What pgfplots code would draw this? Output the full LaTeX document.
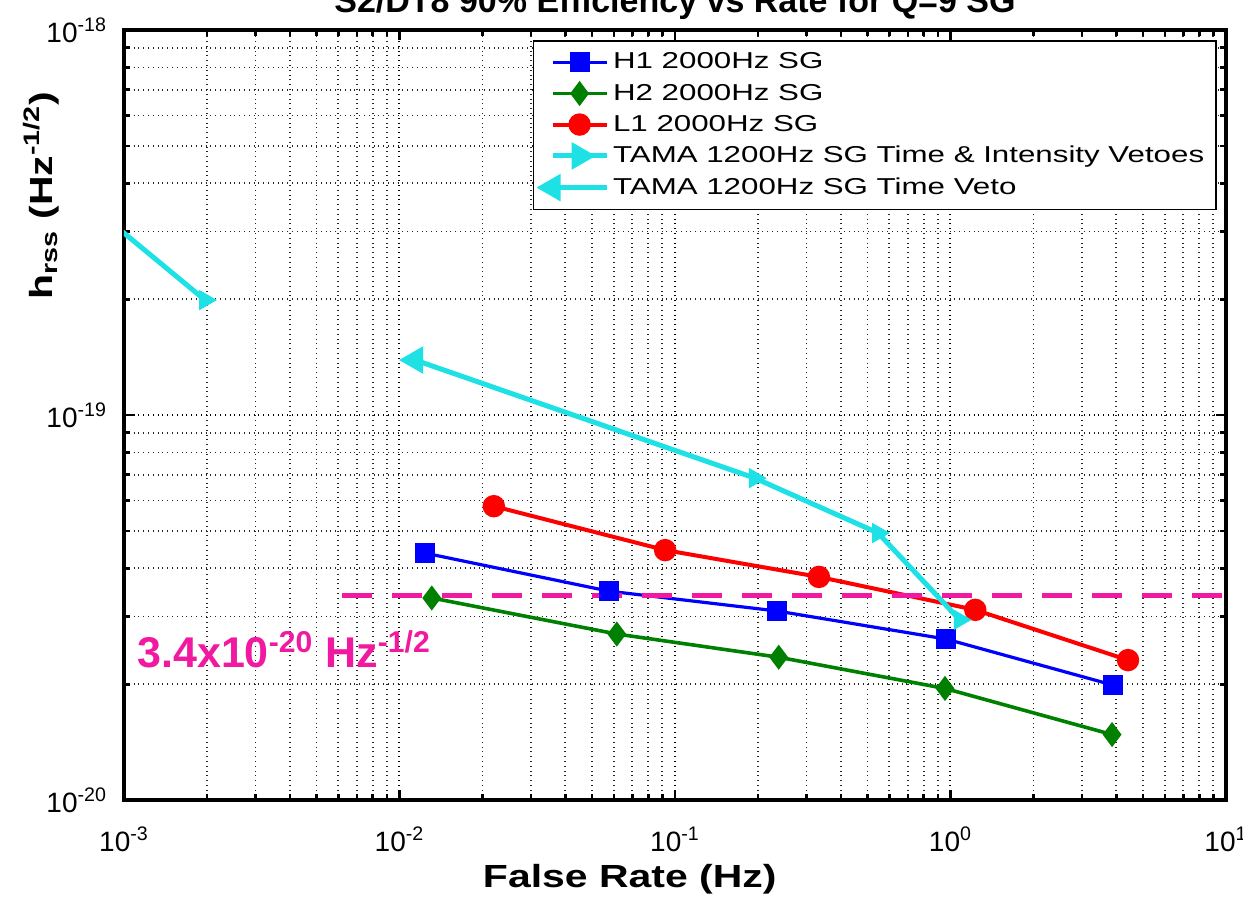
\documentclass[border=0pt]{standalone}
\usepackage{fontspec}
\setmainfont{Liberation Sans}
\newfontfamily\wide[FakeStretch=1.36]{Liberation Sans}
\newfontfamily\widelab[FakeStretch=1.28]{Liberation Sans}
\usepackage{pgfplots}
\pgfplotsset{compat=1.18}

\definecolor{mlblue}{rgb}{0,0,1}
\definecolor{mlgreen}{rgb}{0,0.5,0}
\definecolor{mlred}{rgb}{1,0,0}
\definecolor{tama}{RGB}{30,225,230}
\definecolor{pinkline}{RGB}{240,25,160}

\begin{document}
\begin{tikzpicture}
  \begin{axis}[
      xmode=log, ymode=log,
      scale only axis,
      width=551pt, height=385pt,
      xmin=1e-3, xmax=10,
      ymin=1e-20, ymax=1e-18,
      xtick={1e-3,1e-2,1e-1,1,10},
      xticklabels={10\textsuperscript{-3},10\textsuperscript{-2},10\textsuperscript{-1},10\textsuperscript{0},10\textsuperscript{1}},
      ytick={1e-20,1e-19,1e-18},
      yticklabels={10\textsuperscript{-20},10\textsuperscript{-19},10\textsuperscript{-18}},
      minor xtick={2e-3,3e-3,4e-3,5e-3,6e-3,7e-3,8e-3,9e-3,
                   2e-2,3e-2,4e-2,5e-2,6e-2,7e-2,8e-2,9e-2,
                   0.2,0.3,0.4,0.5,0.6,0.7,0.8,0.9,
                   2,3,4,5,6,7,8,9},
      minor ytick={2e-20,3e-20,4e-20,5e-20,6e-20,7e-20,8e-20,9e-20,
                   2e-19,3e-19,4e-19,5e-19,6e-19,7e-19,8e-19,9e-19},
      grid=both,
      major grid style={black, dotted, line width=1pt},
      minor grid style={black!85, dotted, line width=0.9pt},
      axis line style={line width=2pt},
      tick style={black, line width=1.3pt},
      major tick length=5pt, minor tick length=3pt,
      tick label style={font=\fontsize{14}{16}\selectfont},
      xticklabel style={yshift=-10pt},
      yticklabel style={xshift=-5pt},
      xlabel={\widelab\bfseries\fontsize{16}{19}\selectfont False Rate (Hz)},
      xlabel style={at={(axis description cs:0.459,-0.114)}, anchor=base},
      ylabel={\widelab\bfseries\fontsize{16}{19}\selectfont h\textsubscript{rss} (Hz\textsuperscript{-1/2})},
      ylabel style={at={(axis description cs:-0.0653,0.785)}, anchor=base},
      legend style={at={(axis description cs:1,1)}, anchor=north east,
        xshift=-4.5pt, yshift=-5pt, draw=black, line width=0.8pt,
        font=\wide\fontsize{11.5}{13}\selectfont, cells={anchor=west},
        row sep=2pt, inner sep=4pt},
      legend image code/.code={
        \draw[mark repeat=2, mark phase=2, #1]
          plot coordinates {(0pt,0pt) (13.5pt,0pt) (27pt,0pt)};},
    ]

    % H1
    \addplot[mlblue, line width=1.6pt, mark=square*, mark size=4.2pt,
      mark options={solid, fill=mlblue}] coordinates {
      (0.0124,4.38e-20) (0.0575,3.49e-20) (0.234,3.10e-20) (0.964,2.62e-20) (3.89,1.99e-20)
    };
    \addlegendentry{H1 2000Hz SG}

    % H2
    \addplot[mlgreen, line width=1.8pt, mark=diamond*, mark size=4.8pt,
      mark options={solid, fill=mlgreen}] coordinates {
      (0.0131,3.35e-20) (0.0615,2.70e-20) (0.238,2.35e-20) (0.955,1.95e-20) (3.86,1.48e-20)
    };
    \addlegendentry{H2 2000Hz SG}

    % L1
    \addplot[mlred, line width=2pt, mark=*, mark size=4.6pt,
      mark options={solid, fill=mlred}] coordinates {
      (0.0220,5.80e-20) (0.0921,4.46e-20) (0.333,3.80e-20) (1.23,3.12e-20) (4.41,2.31e-20)
    };
    \addlegendentry{L1 2000Hz SG}

    % TAMA time & intensity vetoes
    \addplot[tama, line width=2.5pt, mark=triangle*, mark size=5.5pt,
      mark options={solid, fill=tama, rotate=-90}, mark indices={2}] coordinates {
      (6e-4,4.02e-19) (1.97e-3,1.99e-19)
    };
    \addlegendentry{TAMA 1200Hz SG Time \& Intensity Vetoes}

    % TAMA time veto
    \addplot[tama, line width=2.5pt, mark=triangle*, mark size=5.5pt,
      mark options={solid, fill=tama, rotate=90}, mark indices={1}] coordinates {
      (0.0114,1.39e-19) (0.195,6.86e-20) (0.546,4.94e-20) (1.08,2.94e-20)
    };
    \addlegendentry{TAMA 1200Hz SG Time Veto}

    \addplot[tama, only marks, mark=triangle*, mark size=5.5pt,
      mark options={solid, fill=tama, rotate=-90}, forget plot] coordinates {
      (1.97e-3,1.99e-19) (0.195,6.86e-20) (0.546,4.94e-20) (1.08,2.94e-20)
    };

    % 3.4e-20 reference level
    \addplot[pinkline, line width=2.5pt, dash pattern=on 15pt off 10pt, forget plot]
      coordinates {(6.2e-3,3.4e-20) (10,3.4e-20)};

    \node[anchor=base west, text=pinkline, inner sep=0pt,
      font=\bfseries\fontsize{21.5}{24}\selectfont]
      at (axis description cs:0.0118,0.1727)
      {3.4x10\textsuperscript{-20} Hz\textsuperscript{-1/2}};
  \end{axis}
  % title, cut by the page edge as in the original figure
  \node[anchor=base, inner sep=0pt, font=\bfseries\fontsize{17}{20}\selectfont]
    at (275.5pt,393.5pt) {S2/DT8 90\% Efficiency vs Rate for Q=9 SG};
  \pgfresetboundingbox
  \useasboundingbox (-62pt,-48pt) rectangle (559.5pt,400pt);
\end{tikzpicture}
\end{document}
